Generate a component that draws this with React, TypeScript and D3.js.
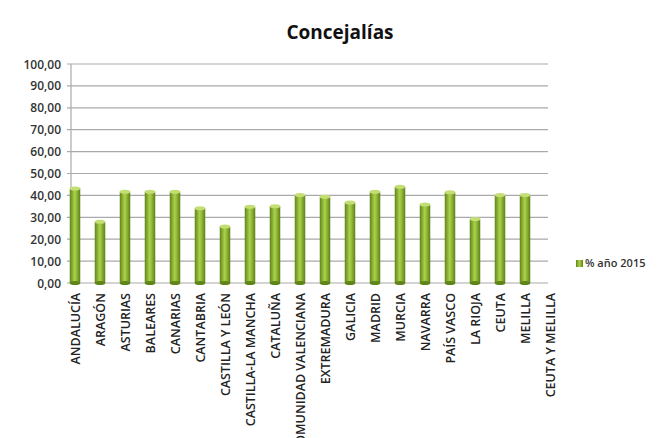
import React from "react";
import * as d3 from "d3";

const categories = [
  "ANDALUCÍA", "ARAGÓN", "ASTURIAS", "BALEARES", "CANARIAS", "CANTABRIA",
  "CASTILLA Y LEÓN", "CASTILLA-LA MANCHA", "CATALUÑA", "COMUNIDAD VALENCIANA",
  "EXTREMADURA", "GALICIA", "MADRID", "MURCIA", "NAVARRA", "PAÍS VASCO",
  "LA RIOJA", "CEUTA", "MELILLA", "CEUTA Y MELILLA",
];
const values: (number | null)[] = [
  43.2, 28.0, 41.7, 41.7, 41.7, 34.1, 25.8, 34.8, 35.0, 40.2,
  39.4, 36.8, 41.7, 44.0, 35.9, 41.4, 29.2, 40.2, 40.2, null,
];
const yTicks = [0, 10, 20, 30, 40, 50, 60, 70, 80, 90, 100];
const seriesName = "% año 2015";
const title = "Concejalías";

export default function App() {
  const W = 667, H = 438;
  const plotLeft = 71, plotRight = 548, plotTop = 64, plotBottom = 283;
  const y = d3.scaleLinear().domain([0, 100]).range([plotBottom, plotTop]);
  const x = d3.scaleBand<string>().domain(categories).range([62.5, 562.5]).paddingInner(0.58).paddingOuter(0.29);
  const fmt = (v: number) => v.toFixed(2).replace(".", ",");
  const font = "Open Sans, Liberation Sans, sans-serif";
  return (
    <svg width={W} height={H} style={{ position: "absolute", left: 0, top: 0, background: "#fff" }}>
      <defs>
        <linearGradient id="barG" x1="0" x2="1" y1="0" y2="0">
          <stop offset="0" stopColor="#5f8418" />
          <stop offset="0.45" stopColor="#a9cf4b" />
          <stop offset="0.6" stopColor="#9cc23f" />
          <stop offset="1" stopColor="#5c7f16" />
        </linearGradient>
      </defs>
      <text x={340} y={39} textAnchor="middle" fontFamily={font} fontWeight="bold" fontSize={19} fill="#111">{title}</text>
      {yTicks.map((t) => (
        <g key={t}>
          <line x1={plotLeft - 4} x2={plotRight} y1={y(t)} y2={y(t)} stroke="#aaaaaa" strokeWidth={1.2} />
          <text x={61} y={y(t) + 4.5} textAnchor="end" fontFamily={font} fontWeight={600} fontSize={12} fill="#333">{fmt(t)}</text>
        </g>
      ))}
      <line x1={plotLeft} x2={plotLeft} y1={plotTop} y2={plotBottom} stroke="#aaaaaa" strokeWidth={1.2} />
      {categories.map((c, i) => {
        const v = values[i];
        const bx = x(c)!;
        const bw = x.bandwidth();
        const cx = bx + bw / 2;
        return (
          <g key={c}>
            {v != null && (
              <g>
                <rect x={bx} y={y(v)} width={bw} height={plotBottom - y(v)} fill="url(#barG)" />
                <ellipse cx={cx} cy={y(v)} rx={bw / 2} ry={2} fill="#c3de73" />
                <ellipse cx={cx} cy={plotBottom} rx={bw / 2} ry={2} fill="#5f8418" />
              </g>
            )}
            <text
              transform={`translate(${cx + 4.5},${plotBottom + 10}) rotate(-90)`}
              textAnchor="end"
              fontFamily={font}
              fontWeight={600}
              fontSize={12.5}
              fill="#222"
            >{c}</text>
          </g>
        );
      })}
      <rect x={576} y={260} width={7} height={7} fill="url(#barG)" />
      <text x={585} y={267} fontFamily={font} fontWeight={600} fontSize={11} fill="#333">{seriesName}</text>
    </svg>
  );
}
